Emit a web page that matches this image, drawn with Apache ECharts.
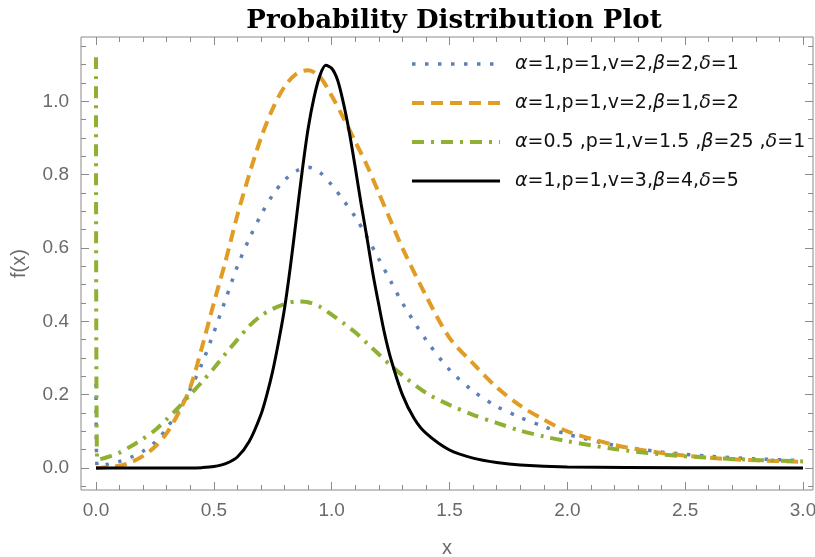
<!DOCTYPE html>
<html>
<head>
<meta charset="utf-8">
<title>Probability Distribution Plot</title>
<script src="https://cdn.jsdelivr.net/npm/echarts@6/dist/echarts.min.js"></script>
<style>
  html, body { margin: 0; padding: 0; background: #fff; }
  #main { width: 815px; height: 557px; }
</style>
</head>
<body>
<div id="main"></div>
<script>
// sample points
var xValues = [0, 0.005, 0.05, 0.1, 0.15, 0.2, 0.25, 0.3, 0.35, 0.4, 0.45, 0.5, 0.55, 0.6, 0.65, 0.7,
  0.75, 0.8, 0.85, 0.9, 0.95, 1.0, 1.05, 1.1, 1.15, 1.2, 1.25, 1.3, 1.4, 1.5, 1.6, 1.7, 1.8, 1.9, 2.0,
  2.2, 2.4, 2.6, 2.8, 3.0];

var blueValues = [0.23, 0.005, 0.01, 0.018, 0.03, 0.046, 0.07, 0.108, 0.158, 0.215, 0.285, 0.37, 0.46,
  0.55, 0.625, 0.69, 0.745, 0.785, 0.81, 0.82, 0.806, 0.772, 0.73, 0.685, 0.63, 0.57, 0.51, 0.45, 0.35,
  0.268, 0.21, 0.168, 0.138, 0.113, 0.092, 0.062, 0.044, 0.032, 0.025, 0.02];

var orangeValues = [0, 0, 0.002, 0.006, 0.016, 0.033, 0.058, 0.095, 0.15, 0.22, 0.33, 0.45, 0.565, 0.69,
  0.80, 0.90, 0.98, 1.04, 1.075, 1.085, 1.067, 1.015, 0.955, 0.89, 0.825, 0.75, 0.675, 0.60, 0.47, 0.355,
  0.285, 0.22, 0.17, 0.132, 0.10, 0.063, 0.041, 0.028, 0.021, 0.017];

var greenValues = [1.12, 0.022, 0.03, 0.042, 0.06, 0.08, 0.103, 0.133, 0.165, 0.2, 0.235, 0.272, 0.312,
  0.35, 0.387, 0.415, 0.434, 0.447, 0.454, 0.452, 0.44, 0.418, 0.395, 0.37, 0.34, 0.31, 0.28, 0.253,
  0.205, 0.172, 0.145, 0.123, 0.102, 0.086, 0.073, 0.052, 0.037, 0.028, 0.022, 0.018];

// the black curve is narrow, so it gets its own finer x samples
var blackX = [0, 0.4, 0.45, 0.5, 0.55, 0.6, 0.65, 0.7, 0.725, 0.75, 0.775, 0.8, 0.825, 0.85, 0.875, 0.9,
  0.925, 0.95, 0.975, 1.0, 1.025, 1.05, 1.075, 1.1, 1.125, 1.15, 1.175, 1.2, 1.225, 1.25, 1.3, 1.35, 1.4,
  1.5, 1.6, 1.7, 1.8, 2.0, 2.5, 3.0];

var blackValues = [0, 0, 0.001, 0.004, 0.012, 0.03, 0.072, 0.146, 0.2, 0.265, 0.345, 0.435, 0.55, 0.68,
  0.81, 0.925, 1.01, 1.07, 1.098, 1.09, 1.058, 0.995, 0.915, 0.82, 0.72, 0.627, 0.53, 0.445, 0.365, 0.3,
  0.2, 0.135, 0.095, 0.049, 0.027, 0.015, 0.008, 0.003, 0.001, 0];

var seriesNames = [
  'α=1,p=1,v=2,β=2,δ=1',
  'α=1,p=1,v=2,β=1,δ=2',
  'α=0.5 ,p=1,v=1.5 ,β=25 ,δ=1',
  'α=1,p=1,v=3,β=4,δ=5'
];

// frame / scale in pixels
var frame = { left: 81, right: 813, top: 37, bottom: 490 };
var origin = { x: 96, y: 468 };
var unitX = (803 - 96) / 3, unitY = 366.7;
function x2px(v) { return origin.x + v * unitX; }
function y2px(v) { return origin.y - v * unitY; }
function px2x(p) { return (p - origin.x) / unitX; }
function px2y(p) { return (origin.y - p) / unitY; }

var frameColor = '#8a8a8a';
var labelColor = '#6a6a6a';
var font = 'Liberation Sans';

function pairs(xs, ys) {
  return xs.map(function (x, i) { return [x, ys[i]]; });
}

function tickStyle(len) {
  return { show: true, inside: true, length: len, lineStyle: { color: frameColor, width: 1 } };
}

function lineSeries(name, xs, ys, color, width, dash, z) {
  return {
    name: name,
    type: 'line',
    xAxisIndex: 0,
    yAxisIndex: 0,
    data: pairs(xs, ys),
    smooth: 0.3,
    symbol: 'none',
    showSymbol: false,
    z: z,
    lineStyle: { color: color, width: width, type: dash, cap: 'butt' },
    itemStyle: { color: color }
  };
}

var main = echarts.init(document.getElementById('main'));

var option = {
  animation: false,
  backgroundColor: '#fff',
  title: {
    text: 'Probability Distribution Plot',
    left: 449,
    top: 3,
    textAlign: 'center',
    textStyle: { fontFamily: 'DejaVu Serif', fontWeight: 'bold', fontSize: 26, color: '#000' }
  },
  legend: {
    data: seriesNames,
    orient: 'vertical',
    left: 405,
    top: 48,
    itemWidth: 88,
    itemHeight: 14,
    itemGap: 17,
    lineStyle: { width: 'inherit' },
    itemStyle: { opacity: 0 },
    formatter: function (name) {
      return name.replace(/([αβδ])/g, '{g|$1}');
    },
    textStyle: {
      fontFamily: 'DejaVu Sans',
      fontSize: 19,
      lineHeight: 22,
      color: '#111',
      padding: [0, 0, 0, 10],
      rich: {
        g: { fontFamily: 'DejaVu Sans', fontStyle: 'italic', fontSize: 19, color: '#111' }
      }
    }
  },
  grid: [
    { left: frame.left, top: frame.top, width: frame.right - frame.left, height: frame.bottom - frame.top,
      outerBoundsMode: 'none', show: true, borderColor: frameColor, borderWidth: 1 },
    { left: x2px(0), top: frame.top, width: x2px(3) - x2px(0), height: frame.bottom - frame.top,
      outerBoundsMode: 'none' },
    { left: frame.left, top: y2px(1.15), width: frame.right - frame.left, height: y2px(-0.05) - y2px(1.15),
      outerBoundsMode: 'none' },
    { left: frame.left, top: y2px(1.0), width: frame.right - frame.left, height: y2px(0) - y2px(1.0),
      outerBoundsMode: 'none' }
  ],
  xAxis: [
    { gridIndex: 0, type: 'value', min: px2x(frame.left), max: px2x(frame.right),
      axisLine: { show: false }, axisTick: { show: false }, axisLabel: { show: false }, splitLine: { show: false },
      name: 'x', nameLocation: 'middle', nameGap: 48,
      nameTextStyle: { fontFamily: font, fontSize: 20, color: labelColor } },
    { gridIndex: 1, type: 'value', position: 'bottom', min: 0, max: 3, interval: 0.5,
      axisLine: { show: false }, axisTick: tickStyle(8),
      minorTick: { show: true, splitNumber: 5, length: 5, lineStyle: { color: frameColor } },
      splitLine: { show: false },
      axisLabel: { margin: 11, fontFamily: font, fontSize: 19, color: labelColor,
        formatter: function (v) { return v.toFixed(1); } } },
    { gridIndex: 1, type: 'value', position: 'top', min: 0, max: 3, interval: 0.5,
      axisLine: { show: false }, axisTick: tickStyle(8),
      minorTick: { show: true, splitNumber: 5, length: 5, lineStyle: { color: frameColor } },
      splitLine: { show: false }, axisLabel: { show: false } },
    { gridIndex: 2, type: 'value', show: false },
    { gridIndex: 3, type: 'value', show: false }
  ],
  yAxis: [
    { gridIndex: 0, type: 'value', min: px2y(frame.bottom), max: px2y(frame.top),
      axisLine: { show: false }, axisTick: { show: false }, axisLabel: { show: false }, splitLine: { show: false },
      name: 'f(x)', nameLocation: 'middle', nameGap: 52,
      nameTextStyle: { fontFamily: font, fontSize: 20, color: labelColor } },
    { gridIndex: 1, type: 'value', show: false },
    { gridIndex: 2, type: 'value', position: 'left', min: -0.05, max: 1.15, interval: 0.05,
      axisLine: { show: false }, axisTick: tickStyle(5), axisLabel: { show: false }, splitLine: { show: false } },
    { gridIndex: 2, type: 'value', position: 'right', min: -0.05, max: 1.15, interval: 0.05,
      axisLine: { show: false }, axisTick: tickStyle(5), axisLabel: { show: false }, splitLine: { show: false } },
    { gridIndex: 3, type: 'value', position: 'left', min: 0, max: 1, interval: 0.2,
      axisLine: { show: false }, axisTick: tickStyle(8), splitLine: { show: false },
      axisLabel: { margin: 12, fontFamily: font, fontSize: 19, color: labelColor,
        formatter: function (v) { return v.toFixed(1); } } },
    { gridIndex: 3, type: 'value', position: 'right', min: 0, max: 1, interval: 0.2,
      axisLine: { show: false }, axisTick: tickStyle(8), splitLine: { show: false }, axisLabel: { show: false } }
  ],
  series: [
    lineSeries(seriesNames[0], xValues, blueValues, '#5e81b5', 3.5, [3.5, 9.5], 3),
    lineSeries(seriesNames[1], xValues, orangeValues, '#e19c24', 4, [12, 7], 4),
    lineSeries(seriesNames[2], xValues, greenValues, '#8fb032', 4, [12, 7, 3, 7], 5),
    lineSeries(seriesNames[3], blackX, blackValues, '#000000', 3, 'solid', 6)
  ]
};

main.setOption(option);
</script>
</body>
</html>
